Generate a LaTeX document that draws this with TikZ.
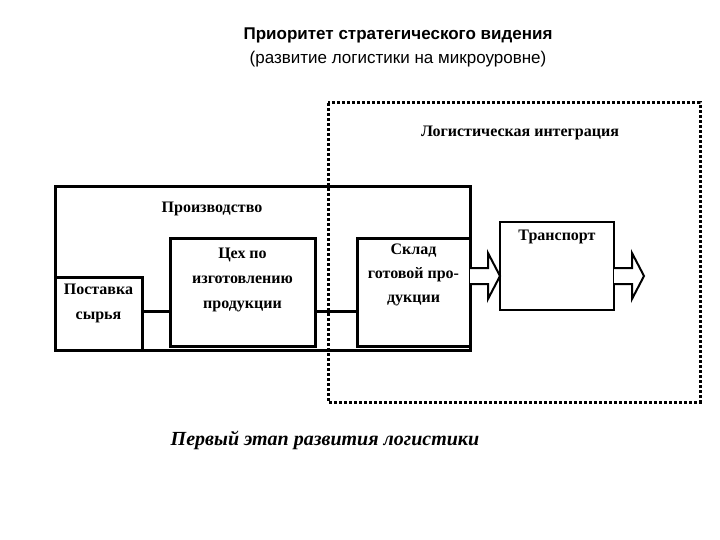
\documentclass[tikz,border=0pt]{standalone}
\usepackage{fontspec}
\setmainfont{Liberation Serif}
\newfontfamily\ttlfont{Liberation Sans}
\begin{document}
\begin{tikzpicture}[x=1pt,y=-1pt,
  bx/.style={draw,line width=3pt,fill=white},
  lbl/.style={align=center},
  harrow/.style={draw,line width=2pt,fill=white}]
\useasboundingbox (0,0) rectangle (720,540);
\node[font=\ttlfont\fontsize{17}{19}\selectfont\bfseries] (t1) at (398,35) {Приоритет стратегического видения};
\node[font=\ttlfont\fontsize{17}{19}\selectfont] (t2) at (398,59) {(развитие логистики на микроуровне)};
\draw[line width=3pt] (55,187) rectangle (470,350);
\node[bx,minimum width=87pt,minimum height=73pt] (pos) at (98.5,313.5) {};
\node[bx,minimum width=145pt,minimum height=108pt] (tsekh) at (242.5,292) {};
\node[bx,minimum width=113pt,minimum height=108pt] (sklad) at (413.5,292) {};
\draw[line width=3pt] (pos.east|-0,311) -- (tsekh.west|-0,311);
\draw[line width=3pt] (tsekh.east|-0,311) -- (sklad.west|-0,311);
\draw[line width=3pt] (470,187) -- (470,238);
\node[draw,line width=2.5pt,minimum width=114pt,minimum height=88pt] (tr) at (557,266) {};
\draw[harrow] (470,268) -- (488,268) -- (488,253) -- (500,276) -- (488,299) -- (488,284) -- (470,284);
\draw[harrow] (614,268) -- (632,268) -- (632,253) -- (644,276) -- (632,299) -- (632,284) -- (614,284);
\draw[line width=3pt,dotted] (328,103) rectangle (700,402);
\node[lbl,font=\fontsize{16}{18}\selectfont\bfseries] (li) at (520,133) {Логистическая интеграция};
\node[lbl,font=\fontsize{16}{18}\selectfont\bfseries] (pr) at (212,209) {Производство};
\node[lbl,anchor=north,font=\fontsize{16}{25}\selectfont\bfseries] at (pos.north) [yshift=-5pt] {Поставка\\сырья};
\node[lbl,anchor=north,font=\fontsize{16}{25}\selectfont\bfseries] at (tsekh.north) [yshift=-8pt] {Цех по\\изготовлению\\продукции};
\node[lbl,anchor=north,font=\fontsize{16}{24}\selectfont\bfseries] at (sklad.north) [yshift=-4pt] {Склад\\готовой про-\\дукции};
\node[lbl,anchor=north,font=\fontsize{16}{18}\selectfont\bfseries] at (tr.north) [yshift=-6pt] {Транспорт};
\node[font=\fontsize{20}{22}\selectfont\bfseries\itshape] (st) at (325,440) {Первый этап развития логистики};
\end{tikzpicture}
\end{document}
